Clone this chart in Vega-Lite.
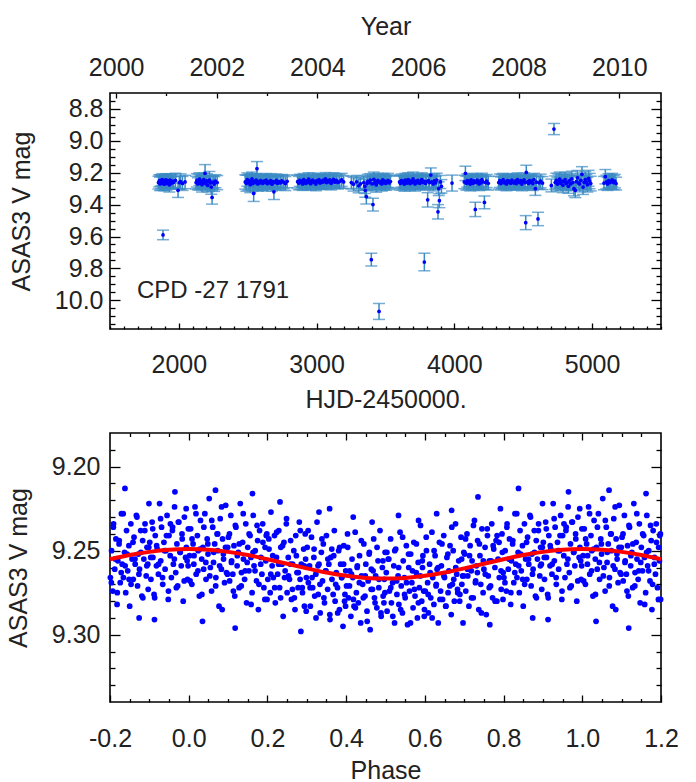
{
"$schema": "https://vega.github.io/schema/vega-lite/v6.json",
"padding": {"left": 5, "top": 13, "right": 10, "bottom": 0},
"spacing": 17,
"config": {
  "locale": {"number": {"decimal": ".", "thousands": ",", "grouping": [3], "currency": ["", ""], "minus": "-"}},
  "view": {"stroke": "#000", "strokeWidth": 1.6},
  "axis": {"grid": false, "domain": false, "tickColor": "#000", "tickWidth": 1.3, "labelFont": "Liberation Sans", "labelFontSize": 25, "labelColor": "#222", "titleFont": "Liberation Sans", "titleFontSize": 25, "titleFontWeight": "normal", "titleColor": "#222", "labelOverlap": false, "labelFlush": false, "labelBound": false}
},
"datasets": {
"ts": [
{"t":1852,"m":9.262,"e":0.040},{"t":1858,"m":9.251,"e":0.038},{"t":1863,"m":9.270,"e":0.042},{"t":1867,"m":9.248,"e":0.036},{"t":1871,"m":9.259,"e":0.040},{"t":1876,"m":9.266,"e":0.044},{"t":1880,"m":9.243,"e":0.037},{"t":1885,"m":9.590,"e":0.030},{"t":1889,"m":9.255,"e":0.039},{"t":1893,"m":9.272,"e":0.041},{"t":1897,"m":9.250,"e":0.036},{"t":1902,"m":9.261,"e":0.040},{"t":1906,"m":9.245,"e":0.038},{"t":1910,"m":9.268,"e":0.043},{"t":1914,"m":9.257,"e":0.037},{"t":1919,"m":9.249,"e":0.040},{"t":1923,"m":9.263,"e":0.036},{"t":1927,"m":9.254,"e":0.041},{"t":1931,"m":9.276,"e":0.045},{"t":1936,"m":9.247,"e":0.038},{"t":1940,"m":9.258,"e":0.040},{"t":1945,"m":9.266,"e":0.037},{"t":1952,"m":9.252,"e":0.042},{"t":1960,"m":9.261,"e":0.039},{"t":1975,"m":9.248,"e":0.045},{"t":1994,"m":9.310,"e":0.045},{"t":2003,"m":9.262,"e":0.040},{"t":2012,"m":9.255,"e":0.048},{"t":2026,"m":9.267,"e":0.044},{"t":2045,"m":9.258,"e":0.042},
{"t":2125,"m":9.262,"e":0.040},{"t":2131,"m":9.248,"e":0.042},{"t":2138,"m":9.270,"e":0.038},{"t":2144,"m":9.255,"e":0.045},{"t":2150,"m":9.240,"e":0.040},{"t":2156,"m":9.266,"e":0.043},{"t":2162,"m":9.252,"e":0.037},{"t":2168,"m":9.275,"e":0.046},{"t":2174,"m":9.258,"e":0.040},{"t":2181,"m":9.244,"e":0.042},{"t":2187,"m":9.263,"e":0.039},{"t":2190,"m":9.204,"e":0.055},{"t":2196,"m":9.269,"e":0.041},{"t":2203,"m":9.251,"e":0.044},{"t":2209,"m":9.280,"e":0.040},{"t":2216,"m":9.256,"e":0.038},{"t":2222,"m":9.247,"e":0.055},{"t":2229,"m":9.264,"e":0.040},{"t":2235,"m":9.290,"e":0.045},{"t":2241,"m":9.355,"e":0.042},{"t":2248,"m":9.259,"e":0.040},{"t":2256,"m":9.271,"e":0.046},{"t":2265,"m":9.253,"e":0.041},{"t":2278,"m":9.262,"e":0.044},
{"t":2482,"m":9.258,"e":0.045},{"t":2490,"m":9.266,"e":0.050},{"t":2497,"m":9.243,"e":0.042},{"t":2505,"m":9.262,"e":0.048},{"t":2512,"m":9.251,"e":0.044},{"t":2518,"m":9.275,"e":0.050},{"t":2525,"m":9.256,"e":0.046},{"t":2531,"m":9.238,"e":0.042},{"t":2537,"m":9.268,"e":0.047},{"t":2543,"m":9.330,"e":0.050},{"t":2549,"m":9.252,"e":0.044},{"t":2556,"m":9.262,"e":0.048},{"t":2562,"m":9.247,"e":0.042},{"t":2567,"m":9.175,"e":0.045},{"t":2573,"m":9.270,"e":0.046},{"t":2580,"m":9.256,"e":0.043},{"t":2587,"m":9.264,"e":0.045},{"t":2594,"m":9.249,"e":0.041},{"t":2601,"m":9.258,"e":0.047},{"t":2609,"m":9.267,"e":0.043},{"t":2617,"m":9.253,"e":0.040},{"t":2625,"m":9.260,"e":0.044},{"t":2633,"m":9.246,"e":0.041},{"t":2641,"m":9.269,"e":0.046},{"t":2650,"m":9.257,"e":0.042},{"t":2658,"m":9.263,"e":0.040},{"t":2667,"m":9.250,"e":0.044},{"t":2676,"m":9.272,"e":0.043},{"t":2684,"m":9.255,"e":0.041},{"t":2690,"m":9.320,"e":0.048},{"t":2698,"m":9.261,"e":0.042},{"t":2707,"m":9.248,"e":0.040},{"t":2716,"m":9.266,"e":0.044},{"t":2726,"m":9.256,"e":0.041},{"t":2737,"m":9.263,"e":0.043},{"t":2748,"m":9.251,"e":0.040},{"t":2760,"m":9.259,"e":0.042},{"t":2773,"m":9.268,"e":0.044},{"t":2786,"m":9.254,"e":0.040},
{"t":2862,"m":9.256,"e":0.040},{"t":2870,"m":9.265,"e":0.042},{"t":2877,"m":9.248,"e":0.038},{"t":2885,"m":9.261,"e":0.044},{"t":2892,"m":9.253,"e":0.040},{"t":2899,"m":9.270,"e":0.041},{"t":2906,"m":9.244,"e":0.039},{"t":2913,"m":9.259,"e":0.043},{"t":2921,"m":9.266,"e":0.040},{"t":2928,"m":9.251,"e":0.038},{"t":2935,"m":9.262,"e":0.042},{"t":2943,"m":9.240,"e":0.040},{"t":2950,"m":9.257,"e":0.044},{"t":2957,"m":9.269,"e":0.041},{"t":2965,"m":9.253,"e":0.039},{"t":2972,"m":9.246,"e":0.043},{"t":2980,"m":9.262,"e":0.040},{"t":2987,"m":9.255,"e":0.038},{"t":2995,"m":9.271,"e":0.042},{"t":3002,"m":9.249,"e":0.040},{"t":3010,"m":9.258,"e":0.044},{"t":3017,"m":9.244,"e":0.039},{"t":3025,"m":9.265,"e":0.041},{"t":3032,"m":9.252,"e":0.040},{"t":3040,"m":9.260,"e":0.043},{"t":3048,"m":9.247,"e":0.038},{"t":3056,"m":9.256,"e":0.042},{"t":3064,"m":9.239,"e":0.040},{"t":3072,"m":9.262,"e":0.041},{"t":3080,"m":9.250,"e":0.039},{"t":3088,"m":9.257,"e":0.043},{"t":3096,"m":9.245,"e":0.040},{"t":3105,"m":9.266,"e":0.042},{"t":3114,"m":9.253,"e":0.039},{"t":3123,"m":9.241,"e":0.041},{"t":3133,"m":9.259,"e":0.040},{"t":3143,"m":9.248,"e":0.042},{"t":3155,"m":9.262,"e":0.040},{"t":3168,"m":9.254,"e":0.043},{"t":3182,"m":9.245,"e":0.041},{"t":3196,"m":9.258,"e":0.040},
{"t":3252,"m":9.262,"e":0.040},{"t":3268,"m":9.272,"e":0.043},{"t":3290,"m":9.258,"e":0.041},{"t":3305,"m":9.282,"e":0.044},{"t":3318,"m":9.270,"e":0.042},
{"t":3342,"m":9.262,"e":0.042},{"t":3350,"m":9.285,"e":0.045},{"t":3353,"m":9.310,"e":0.044},{"t":3361,"m":9.350,"e":0.046},{"t":3366,"m":9.268,"e":0.042},{"t":3372,"m":9.254,"e":0.044},{"t":3384,"m":9.262,"e":0.043},{"t":3390,"m":9.247,"e":0.041},{"t":3397,"m":9.745,"e":0.040},{"t":3403,"m":9.270,"e":0.044},{"t":3409,"m":9.400,"e":0.040},{"t":3415,"m":9.241,"e":0.045},{"t":3421,"m":9.265,"e":0.043},{"t":3427,"m":9.252,"e":0.041},{"t":3433,"m":9.276,"e":0.046},{"t":3440,"m":9.259,"e":0.042},{"t":3446,"m":9.248,"e":0.044},{"t":3453,"m":10.070,"e":0.050},{"t":3459,"m":9.263,"e":0.041},{"t":3466,"m":9.255,"e":0.043},{"t":3473,"m":9.270,"e":0.045},{"t":3480,"m":9.245,"e":0.041},{"t":3487,"m":9.262,"e":0.044},{"t":3494,"m":9.252,"e":0.042},{"t":3502,"m":9.267,"e":0.043},{"t":3510,"m":9.257,"e":0.041},{"t":3518,"m":9.248,"e":0.044},{"t":3527,"m":9.264,"e":0.042},{"t":3536,"m":9.255,"e":0.040},
{"t":3602,"m":9.258,"e":0.042},{"t":3609,"m":9.266,"e":0.044},{"t":3616,"m":9.249,"e":0.041},{"t":3623,"m":9.262,"e":0.043},{"t":3630,"m":9.254,"e":0.040},{"t":3637,"m":9.271,"e":0.045},{"t":3644,"m":9.246,"e":0.042},{"t":3651,"m":9.259,"e":0.044},{"t":3658,"m":9.265,"e":0.041},{"t":3665,"m":9.243,"e":0.043},{"t":3672,"m":9.256,"e":0.040},{"t":3679,"m":9.268,"e":0.044},{"t":3686,"m":9.251,"e":0.042},{"t":3693,"m":9.262,"e":0.041},{"t":3700,"m":9.239,"e":0.043},{"t":3707,"m":9.257,"e":0.040},{"t":3714,"m":9.270,"e":0.045},{"t":3721,"m":9.252,"e":0.042},{"t":3728,"m":9.263,"e":0.044},{"t":3735,"m":9.248,"e":0.041},{"t":3742,"m":9.259,"e":0.043},{"t":3749,"m":9.266,"e":0.040},{"t":3756,"m":9.254,"e":0.042},{"t":3763,"m":9.244,"e":0.044},{"t":3770,"m":9.261,"e":0.041},{"t":3777,"m":9.252,"e":0.043},{"t":3782,"m":9.760,"e":0.055},{"t":3790,"m":9.267,"e":0.042},{"t":3797,"m":9.256,"e":0.044},{"t":3806,"m":9.370,"e":0.045},{"t":3812,"m":9.249,"e":0.041},{"t":3820,"m":9.262,"e":0.043},{"t":3829,"m":9.215,"e":0.045},{"t":3837,"m":9.258,"e":0.040},{"t":3846,"m":9.270,"e":0.044},{"t":3855,"m":9.251,"e":0.042},{"t":3864,"m":9.263,"e":0.041},{"t":3872,"m":9.246,"e":0.043},{"t":3881,"m":9.445,"e":0.045},{"t":3886,"m":9.300,"e":0.043},{"t":3891,"m":9.375,"e":0.044},{"t":3898,"m":9.258,"e":0.041},{"t":3906,"m":9.285,"e":0.042},
{"t":3983,"m":9.265,"e":0.050},
{"t":4072,"m":9.258,"e":0.042},{"t":4080,"m":9.204,"e":0.045},{"t":4087,"m":9.266,"e":0.043},{"t":4094,"m":9.249,"e":0.041},{"t":4101,"m":9.262,"e":0.044},{"t":4108,"m":9.254,"e":0.040},{"t":4115,"m":9.271,"e":0.043},{"t":4122,"m":9.245,"e":0.041},{"t":4129,"m":9.259,"e":0.044},{"t":4136,"m":9.266,"e":0.042},{"t":4143,"m":9.251,"e":0.040},{"t":4152,"m":9.430,"e":0.045},{"t":4158,"m":9.262,"e":0.043},{"t":4165,"m":9.247,"e":0.041},{"t":4172,"m":9.258,"e":0.044},{"t":4179,"m":9.270,"e":0.042},{"t":4186,"m":9.253,"e":0.040},{"t":4193,"m":9.264,"e":0.043},{"t":4200,"m":9.244,"e":0.041},{"t":4207,"m":9.257,"e":0.044},{"t":4218,"m":9.386,"e":0.040},{"t":4226,"m":9.262,"e":0.042},{"t":4235,"m":9.252,"e":0.041},{"t":4246,"m":9.266,"e":0.043},
{"t":4322,"m":9.262,"e":0.040},{"t":4330,"m":9.250,"e":0.042},{"t":4338,"m":9.268,"e":0.041},{"t":4346,"m":9.255,"e":0.043},{"t":4354,"m":9.244,"e":0.040},{"t":4362,"m":9.263,"e":0.042},{"t":4370,"m":9.257,"e":0.041},{"t":4378,"m":9.270,"e":0.043},{"t":4386,"m":9.249,"e":0.040},{"t":4394,"m":9.261,"e":0.042},{"t":4402,"m":9.254,"e":0.041},{"t":4410,"m":9.266,"e":0.043},{"t":4418,"m":9.246,"e":0.040},{"t":4426,"m":9.259,"e":0.042},{"t":4434,"m":9.265,"e":0.041},{"t":4442,"m":9.252,"e":0.043},{"t":4450,"m":9.268,"e":0.040},{"t":4458,"m":9.243,"e":0.042},{"t":4466,"m":9.258,"e":0.041},{"t":4474,"m":9.262,"e":0.043},{"t":4482,"m":9.250,"e":0.040},{"t":4490,"m":9.271,"e":0.042},{"t":4498,"m":9.256,"e":0.041},{"t":4506,"m":9.245,"e":0.043},{"t":4513,"m":9.262,"e":0.040},{"t":4518,"m":9.513,"e":0.044},{"t":4522,"m":9.198,"e":0.045},{"t":4530,"m":9.257,"e":0.041},{"t":4538,"m":9.266,"e":0.043},{"t":4546,"m":9.249,"e":0.040},{"t":4554,"m":9.261,"e":0.042},{"t":4562,"m":9.253,"e":0.041},{"t":4570,"m":9.268,"e":0.043},{"t":4578,"m":9.244,"e":0.040},{"t":4588,"m":9.300,"e":0.042},{"t":4596,"m":9.259,"e":0.041},{"t":4607,"m":9.490,"e":0.042},{"t":4615,"m":9.263,"e":0.040},{"t":4626,"m":9.252,"e":0.043},{"t":4640,"m":9.265,"e":0.041},
{"t":4704,"m":9.280,"e":0.040},{"t":4723,"m":8.926,"e":0.035},
{"t":4732,"m":9.262,"e":0.042},{"t":4740,"m":9.248,"e":0.045},{"t":4748,"m":9.271,"e":0.043},{"t":4756,"m":9.255,"e":0.046},{"t":4764,"m":9.240,"e":0.044},{"t":4772,"m":9.266,"e":0.045},{"t":4780,"m":9.252,"e":0.043},{"t":4788,"m":9.279,"e":0.046},{"t":4796,"m":9.257,"e":0.044},{"t":4804,"m":9.243,"e":0.045},{"t":4812,"m":9.268,"e":0.043},{"t":4820,"m":9.260,"e":0.046},{"t":4828,"m":9.285,"e":0.044},{"t":4836,"m":9.250,"e":0.045},{"t":4844,"m":9.270,"e":0.043},{"t":4852,"m":9.238,"e":0.047},{"t":4860,"m":9.262,"e":0.044},{"t":4868,"m":9.300,"e":0.045},{"t":4878,"m":9.310,"e":0.046},{"t":4886,"m":9.256,"e":0.043},{"t":4894,"m":9.232,"e":0.046},{"t":4902,"m":9.265,"e":0.044},{"t":4910,"m":9.270,"e":0.050},{"t":4918,"m":9.248,"e":0.045},{"t":4926,"m":9.210,"e":0.048},{"t":4934,"m":9.290,"e":0.046},{"t":4942,"m":9.262,"e":0.045},{"t":4950,"m":9.243,"e":0.050},{"t":4958,"m":9.258,"e":0.047},{"t":4966,"m":9.275,"e":0.046},{"t":4974,"m":9.235,"e":0.050},{"t":4982,"m":9.252,"e":0.048},{"t":4990,"m":9.268,"e":0.046},
{"t":5086,"m":9.265,"e":0.042},{"t":5096,"m":9.225,"e":0.045},{"t":5104,"m":9.258,"e":0.043},{"t":5112,"m":9.270,"e":0.041},{"t":5120,"m":9.250,"e":0.044},{"t":5128,"m":9.262,"e":0.042},{"t":5136,"m":9.256,"e":0.043},{"t":5145,"m":9.245,"e":0.041},{"t":5155,"m":9.262,"e":0.044},{"t":5165,"m":9.253,"e":0.042},{"t":5174,"m":9.268,"e":0.040}
],
"ph": [
{"p":0.002,"m":9.253},{"p":0.005,"m":9.237},{"p":0.008,"m":9.270},{"p":0.011,"m":9.246},{"p":0.013,"m":9.258},{"p":0.016,"m":9.224},{"p":0.019,"m":9.264},{"p":0.022,"m":9.241},{"p":0.024,"m":9.250},{"p":0.027,"m":9.277},{"p":0.030,"m":9.232},{"p":0.033,"m":9.255},{"p":0.036,"m":9.248},{"p":0.038,"m":9.261},{"p":0.041,"m":9.228},{"p":0.044,"m":9.267},{"p":0.047,"m":9.243},{"p":0.049,"m":9.252},{"p":0.052,"m":9.219},{"p":0.055,"m":9.260},{"p":0.058,"m":9.274},{"p":0.061,"m":9.236},{"p":0.063,"m":9.257},{"p":0.066,"m":9.246},{"p":0.069,"m":9.266},{"p":0.072,"m":9.240},{"p":0.074,"m":9.250},{"p":0.077,"m":9.283},{"p":0.080,"m":9.231},{"p":0.083,"m":9.261},{"p":0.086,"m":9.243},{"p":0.088,"m":9.252},{"p":0.091,"m":9.269},{"p":0.094,"m":9.223},{"p":0.096,"m":9.263},{"p":0.099,"m":9.248},{"p":0.035,"m":9.292},{"p":0.068,"m":9.214},{"p":0.085,"m":9.285},
{"p":0.101,"m":9.242},{"p":0.104,"m":9.268},{"p":0.107,"m":9.229},{"p":0.109,"m":9.256},{"p":0.112,"m":9.264},{"p":0.115,"m":9.247},{"p":0.117,"m":9.277},{"p":0.120,"m":9.236},{"p":0.123,"m":9.259},{"p":0.126,"m":9.251},{"p":0.128,"m":9.272},{"p":0.131,"m":9.222},{"p":0.134,"m":9.263},{"p":0.137,"m":9.245},{"p":0.139,"m":9.255},{"p":0.142,"m":9.267},{"p":0.145,"m":9.234},{"p":0.147,"m":9.281},{"p":0.150,"m":9.248},{"p":0.153,"m":9.262},{"p":0.156,"m":9.241},{"p":0.158,"m":9.254},{"p":0.161,"m":9.275},{"p":0.164,"m":9.229},{"p":0.166,"m":9.259},{"p":0.169,"m":9.250},{"p":0.172,"m":9.268},{"p":0.175,"m":9.244},{"p":0.177,"m":9.285},{"p":0.180,"m":9.238},{"p":0.183,"m":9.258},{"p":0.186,"m":9.264},{"p":0.188,"m":9.234},{"p":0.191,"m":9.272},{"p":0.194,"m":9.248},{"p":0.196,"m":9.256},{"p":0.199,"m":9.279},{"p":0.197,"m":9.241},{"p":0.118,"m":9.296},{"p":0.162,"m":9.216},
{"p":0.201,"m":9.267},{"p":0.204,"m":9.249},{"p":0.207,"m":9.275},{"p":0.209,"m":9.227},{"p":0.212,"m":9.259},{"p":0.215,"m":9.266},{"p":0.218,"m":9.241},{"p":0.220,"m":9.281},{"p":0.223,"m":9.254},{"p":0.226,"m":9.264},{"p":0.229,"m":9.238},{"p":0.231,"m":9.272},{"p":0.234,"m":9.248},{"p":0.237,"m":9.258},{"p":0.240,"m":9.289},{"p":0.242,"m":9.245},{"p":0.245,"m":9.262},{"p":0.248,"m":9.234},{"p":0.250,"m":9.275},{"p":0.253,"m":9.254},{"p":0.256,"m":9.267},{"p":0.259,"m":9.244},{"p":0.261,"m":9.279},{"p":0.264,"m":9.258},{"p":0.267,"m":9.250},{"p":0.270,"m":9.285},{"p":0.272,"m":9.241},{"p":0.275,"m":9.263},{"p":0.278,"m":9.272},{"p":0.281,"m":9.233},{"p":0.283,"m":9.267},{"p":0.286,"m":9.258},{"p":0.289,"m":9.275},{"p":0.292,"m":9.249},{"p":0.294,"m":9.283},{"p":0.297,"m":9.255},{"p":0.299,"m":9.266},{"p":0.296,"m":9.240},{"p":0.232,"m":9.221},{"p":0.285,"m":9.298},
{"p":0.301,"m":9.248},{"p":0.304,"m":9.269},{"p":0.307,"m":9.259},{"p":0.309,"m":9.283},{"p":0.312,"m":9.242},{"p":0.315,"m":9.272},{"p":0.318,"m":9.254},{"p":0.320,"m":9.277},{"p":0.323,"m":9.264},{"p":0.326,"m":9.233},{"p":0.329,"m":9.276},{"p":0.331,"m":9.258},{"p":0.334,"m":9.287},{"p":0.337,"m":9.251},{"p":0.340,"m":9.268},{"p":0.342,"m":9.246},{"p":0.345,"m":9.281},{"p":0.348,"m":9.262},{"p":0.350,"m":9.241},{"p":0.353,"m":9.273},{"p":0.356,"m":9.258},{"p":0.359,"m":9.291},{"p":0.361,"m":9.254},{"p":0.364,"m":9.267},{"p":0.367,"m":9.276},{"p":0.370,"m":9.238},{"p":0.372,"m":9.280},{"p":0.375,"m":9.263},{"p":0.378,"m":9.272},{"p":0.381,"m":9.250},{"p":0.383,"m":9.285},{"p":0.386,"m":9.258},{"p":0.389,"m":9.266},{"p":0.392,"m":9.295},{"p":0.394,"m":9.247},{"p":0.397,"m":9.276},{"p":0.399,"m":9.262},{"p":0.396,"m":9.280},{"p":0.358,"m":9.225},{"p":0.331,"m":9.227},
{"p":0.401,"m":9.271},{"p":0.404,"m":9.248},{"p":0.406,"m":9.278},{"p":0.409,"m":9.262},{"p":0.412,"m":9.289},{"p":0.415,"m":9.255},{"p":0.417,"m":9.266},{"p":0.420,"m":9.283},{"p":0.423,"m":9.239},{"p":0.426,"m":9.275},{"p":0.428,"m":9.260},{"p":0.431,"m":9.281},{"p":0.434,"m":9.253},{"p":0.437,"m":9.293},{"p":0.439,"m":9.265},{"p":0.442,"m":9.270},{"p":0.445,"m":9.246},{"p":0.448,"m":9.277},{"p":0.450,"m":9.258},{"p":0.453,"m":9.286},{"p":0.456,"m":9.268},{"p":0.459,"m":9.251},{"p":0.461,"m":9.297},{"p":0.464,"m":9.261},{"p":0.467,"m":9.273},{"p":0.470,"m":9.243},{"p":0.472,"m":9.278},{"p":0.475,"m":9.265},{"p":0.478,"m":9.284},{"p":0.481,"m":9.256},{"p":0.483,"m":9.272},{"p":0.486,"m":9.238},{"p":0.489,"m":9.289},{"p":0.492,"m":9.260},{"p":0.494,"m":9.277},{"p":0.497,"m":9.267},{"p":0.499,"m":9.251},{"p":0.496,"m":9.281},{"p":0.418,"m":9.230},{"p":0.466,"m":9.233},
{"p":0.502,"m":9.263},{"p":0.504,"m":9.286},{"p":0.507,"m":9.255},{"p":0.510,"m":9.274},{"p":0.513,"m":9.243},{"p":0.515,"m":9.281},{"p":0.518,"m":9.269},{"p":0.521,"m":9.259},{"p":0.523,"m":9.293},{"p":0.526,"m":9.249},{"p":0.529,"m":9.276},{"p":0.532,"m":9.265},{"p":0.534,"m":9.282},{"p":0.537,"m":9.239},{"p":0.540,"m":9.271},{"p":0.543,"m":9.287},{"p":0.545,"m":9.256},{"p":0.548,"m":9.266},{"p":0.550,"m":9.278},{"p":0.553,"m":9.247},{"p":0.556,"m":9.294},{"p":0.559,"m":9.260},{"p":0.561,"m":9.274},{"p":0.564,"m":9.252},{"p":0.567,"m":9.269},{"p":0.570,"m":9.284},{"p":0.572,"m":9.245},{"p":0.575,"m":9.277},{"p":0.578,"m":9.263},{"p":0.581,"m":9.290},{"p":0.583,"m":9.257},{"p":0.586,"m":9.272},{"p":0.589,"m":9.235},{"p":0.592,"m":9.280},{"p":0.594,"m":9.260},{"p":0.597,"m":9.274},{"p":0.599,"m":9.285},{"p":0.595,"m":9.253},{"p":0.533,"m":9.229},{"p":0.584,"m":9.232},
{"p":0.601,"m":9.274},{"p":0.604,"m":9.250},{"p":0.607,"m":9.269},{"p":0.609,"m":9.287},{"p":0.612,"m":9.258},{"p":0.615,"m":9.278},{"p":0.618,"m":9.239},{"p":0.620,"m":9.266},{"p":0.623,"m":9.282},{"p":0.626,"m":9.253},{"p":0.629,"m":9.270},{"p":0.631,"m":9.261},{"p":0.634,"m":9.293},{"p":0.637,"m":9.245},{"p":0.640,"m":9.274},{"p":0.642,"m":9.259},{"p":0.645,"m":9.279},{"p":0.648,"m":9.241},{"p":0.650,"m":9.266},{"p":0.653,"m":9.283},{"p":0.656,"m":9.254},{"p":0.659,"m":9.275},{"p":0.661,"m":9.262},{"p":0.664,"m":9.247},{"p":0.667,"m":9.288},{"p":0.670,"m":9.270},{"p":0.672,"m":9.250},{"p":0.675,"m":9.280},{"p":0.678,"m":9.234},{"p":0.681,"m":9.264},{"p":0.683,"m":9.273},{"p":0.686,"m":9.256},{"p":0.689,"m":9.276},{"p":0.692,"m":9.242},{"p":0.694,"m":9.270},{"p":0.697,"m":9.293},{"p":0.699,"m":9.251},{"p":0.696,"m":9.265},{"p":0.630,"m":9.228},{"p":0.668,"m":9.226},
{"p":0.701,"m":9.252},{"p":0.704,"m":9.274},{"p":0.707,"m":9.240},{"p":0.709,"m":9.265},{"p":0.712,"m":9.283},{"p":0.715,"m":9.247},{"p":0.718,"m":9.262},{"p":0.720,"m":9.256},{"p":0.723,"m":9.278},{"p":0.726,"m":9.232},{"p":0.729,"m":9.268},{"p":0.731,"m":9.259},{"p":0.734,"m":9.244},{"p":0.737,"m":9.285},{"p":0.740,"m":9.253},{"p":0.742,"m":9.270},{"p":0.745,"m":9.237},{"p":0.748,"m":9.275},{"p":0.750,"m":9.261},{"p":0.753,"m":9.248},{"p":0.756,"m":9.288},{"p":0.759,"m":9.241},{"p":0.761,"m":9.265},{"p":0.764,"m":9.256},{"p":0.767,"m":9.271},{"p":0.770,"m":9.234},{"p":0.772,"m":9.278},{"p":0.775,"m":9.249},{"p":0.778,"m":9.260},{"p":0.781,"m":9.244},{"p":0.783,"m":9.280},{"p":0.786,"m":9.255},{"p":0.789,"m":9.266},{"p":0.792,"m":9.225},{"p":0.794,"m":9.273},{"p":0.797,"m":9.251},{"p":0.799,"m":9.263},{"p":0.796,"m":9.240},{"p":0.735,"m":9.218},{"p":0.765,"m":9.294},
{"p":0.801,"m":9.266},{"p":0.804,"m":9.250},{"p":0.807,"m":9.274},{"p":0.809,"m":9.234},{"p":0.812,"m":9.261},{"p":0.815,"m":9.243},{"p":0.818,"m":9.282},{"p":0.820,"m":9.256},{"p":0.823,"m":9.246},{"p":0.826,"m":9.269},{"p":0.829,"m":9.228},{"p":0.831,"m":9.258},{"p":0.834,"m":9.266},{"p":0.837,"m":9.251},{"p":0.840,"m":9.275},{"p":0.842,"m":9.238},{"p":0.845,"m":9.262},{"p":0.848,"m":9.247},{"p":0.850,"m":9.283},{"p":0.853,"m":9.234},{"p":0.856,"m":9.255},{"p":0.859,"m":9.267},{"p":0.861,"m":9.242},{"p":0.864,"m":9.258},{"p":0.867,"m":9.229},{"p":0.870,"m":9.271},{"p":0.872,"m":9.252},{"p":0.875,"m":9.261},{"p":0.878,"m":9.238},{"p":0.881,"m":9.277},{"p":0.883,"m":9.244},{"p":0.886,"m":9.255},{"p":0.889,"m":9.234},{"p":0.892,"m":9.265},{"p":0.894,"m":9.248},{"p":0.897,"m":9.273},{"p":0.899,"m":9.222},{"p":0.896,"m":9.258},{"p":0.838,"m":9.213},{"p":0.874,"m":9.290},
{"p":0.901,"m":9.245},{"p":0.904,"m":9.267},{"p":0.907,"m":9.233},{"p":0.909,"m":9.254},{"p":0.912,"m":9.276},{"p":0.915,"m":9.241},{"p":0.918,"m":9.259},{"p":0.920,"m":9.249},{"p":0.923,"m":9.264},{"p":0.926,"m":9.222},{"p":0.929,"m":9.256},{"p":0.931,"m":9.236},{"p":0.934,"m":9.270},{"p":0.937,"m":9.245},{"p":0.940,"m":9.261},{"p":0.942,"m":9.250},{"p":0.945,"m":9.229},{"p":0.948,"m":9.279},{"p":0.950,"m":9.241},{"p":0.953,"m":9.253},{"p":0.956,"m":9.266},{"p":0.959,"m":9.236},{"p":0.961,"m":9.258},{"p":0.964,"m":9.224},{"p":0.967,"m":9.263},{"p":0.970,"m":9.246},{"p":0.972,"m":9.271},{"p":0.975,"m":9.233},{"p":0.978,"m":9.251},{"p":0.981,"m":9.259},{"p":0.983,"m":9.240},{"p":0.986,"m":9.280},{"p":0.989,"m":9.230},{"p":0.992,"m":9.254},{"p":0.994,"m":9.248},{"p":0.997,"m":9.267},{"p":0.999,"m":9.237},{"p":0.996,"m":9.256},{"p":0.913,"m":9.291},{"p":0.965,"m":9.215},
{"p":-0.199,"m":9.266},{"p":-0.196,"m":9.250},{"p":-0.193,"m":9.274},{"p":-0.191,"m":9.234},{"p":-0.188,"m":9.261},{"p":-0.185,"m":9.243},{"p":-0.182,"m":9.282},{"p":-0.180,"m":9.256},{"p":-0.177,"m":9.246},{"p":-0.174,"m":9.269},{"p":-0.171,"m":9.228},{"p":-0.169,"m":9.258},{"p":-0.166,"m":9.266},{"p":-0.163,"m":9.251},{"p":-0.160,"m":9.275},{"p":-0.158,"m":9.238},{"p":-0.155,"m":9.262},{"p":-0.152,"m":9.247},{"p":-0.150,"m":9.283},{"p":-0.147,"m":9.234},{"p":-0.144,"m":9.255},{"p":-0.141,"m":9.267},{"p":-0.139,"m":9.242},{"p":-0.136,"m":9.258},{"p":-0.133,"m":9.229},{"p":-0.130,"m":9.271},{"p":-0.128,"m":9.252},{"p":-0.125,"m":9.261},{"p":-0.122,"m":9.238},{"p":-0.119,"m":9.277},{"p":-0.117,"m":9.244},{"p":-0.114,"m":9.255},{"p":-0.111,"m":9.234},{"p":-0.108,"m":9.265},{"p":-0.106,"m":9.248},{"p":-0.103,"m":9.273},{"p":-0.101,"m":9.222},{"p":-0.104,"m":9.258},{"p":-0.162,"m":9.213},{"p":-0.126,"m":9.290},
{"p":-0.099,"m":9.245},{"p":-0.096,"m":9.267},{"p":-0.093,"m":9.233},{"p":-0.091,"m":9.254},{"p":-0.088,"m":9.276},{"p":-0.085,"m":9.241},{"p":-0.082,"m":9.259},{"p":-0.080,"m":9.249},{"p":-0.077,"m":9.264},{"p":-0.074,"m":9.222},{"p":-0.071,"m":9.256},{"p":-0.069,"m":9.236},{"p":-0.066,"m":9.270},{"p":-0.063,"m":9.245},{"p":-0.060,"m":9.261},{"p":-0.058,"m":9.250},{"p":-0.055,"m":9.229},{"p":-0.052,"m":9.279},{"p":-0.050,"m":9.241},{"p":-0.047,"m":9.253},{"p":-0.044,"m":9.266},{"p":-0.041,"m":9.236},{"p":-0.039,"m":9.258},{"p":-0.036,"m":9.224},{"p":-0.033,"m":9.263},{"p":-0.030,"m":9.246},{"p":-0.028,"m":9.271},{"p":-0.025,"m":9.233},{"p":-0.022,"m":9.251},{"p":-0.019,"m":9.259},{"p":-0.017,"m":9.240},{"p":-0.014,"m":9.280},{"p":-0.011,"m":9.230},{"p":-0.008,"m":9.254},{"p":-0.006,"m":9.248},{"p":-0.003,"m":9.267},{"p":-0.001,"m":9.237},{"p":-0.004,"m":9.256},{"p":-0.087,"m":9.291},{"p":-0.035,"m":9.215},
{"p":1.002,"m":9.253},{"p":1.005,"m":9.237},{"p":1.008,"m":9.270},{"p":1.011,"m":9.246},{"p":1.013,"m":9.258},{"p":1.016,"m":9.224},{"p":1.019,"m":9.264},{"p":1.022,"m":9.241},{"p":1.024,"m":9.250},{"p":1.027,"m":9.277},{"p":1.030,"m":9.232},{"p":1.033,"m":9.255},{"p":1.036,"m":9.248},{"p":1.038,"m":9.261},{"p":1.041,"m":9.228},{"p":1.044,"m":9.267},{"p":1.047,"m":9.243},{"p":1.049,"m":9.252},{"p":1.052,"m":9.219},{"p":1.055,"m":9.260},{"p":1.058,"m":9.274},{"p":1.061,"m":9.236},{"p":1.063,"m":9.257},{"p":1.066,"m":9.246},{"p":1.069,"m":9.266},{"p":1.072,"m":9.240},{"p":1.074,"m":9.250},{"p":1.077,"m":9.283},{"p":1.080,"m":9.231},{"p":1.083,"m":9.261},{"p":1.086,"m":9.243},{"p":1.088,"m":9.252},{"p":1.091,"m":9.269},{"p":1.094,"m":9.223},{"p":1.096,"m":9.263},{"p":1.099,"m":9.248},{"p":1.035,"m":9.292},{"p":1.068,"m":9.214},{"p":1.085,"m":9.285},
{"p":1.101,"m":9.242},{"p":1.104,"m":9.268},{"p":1.107,"m":9.229},{"p":1.109,"m":9.256},{"p":1.112,"m":9.264},{"p":1.115,"m":9.247},{"p":1.117,"m":9.277},{"p":1.120,"m":9.236},{"p":1.123,"m":9.259},{"p":1.126,"m":9.251},{"p":1.128,"m":9.272},{"p":1.131,"m":9.222},{"p":1.134,"m":9.263},{"p":1.137,"m":9.245},{"p":1.139,"m":9.255},{"p":1.142,"m":9.267},{"p":1.145,"m":9.234},{"p":1.147,"m":9.281},{"p":1.150,"m":9.248},{"p":1.153,"m":9.262},{"p":1.156,"m":9.241},{"p":1.158,"m":9.254},{"p":1.161,"m":9.275},{"p":1.164,"m":9.229},{"p":1.166,"m":9.259},{"p":1.169,"m":9.250},{"p":1.172,"m":9.268},{"p":1.175,"m":9.244},{"p":1.177,"m":9.285},{"p":1.180,"m":9.238},{"p":1.183,"m":9.258},{"p":1.186,"m":9.264},{"p":1.188,"m":9.234},{"p":1.191,"m":9.272},{"p":1.194,"m":9.248},{"p":1.196,"m":9.256},{"p":1.199,"m":9.279},{"p":1.197,"m":9.241},{"p":1.118,"m":9.296},{"p":1.162,"m":9.216},
{"p":0.0035,"m":9.268},{"p":0.0085,"m":9.243},{"p":0.0135,"m":9.253},{"p":0.0185,"m":9.228},{"p":0.0235,"m":9.262},{"p":0.0285,"m":9.249},{"p":0.0335,"m":9.276},{"p":0.0385,"m":9.236},{"p":0.0435,"m":9.257},{"p":0.0485,"m":9.246},{"p":0.0535,"m":9.265},{"p":0.0585,"m":9.232},{"p":0.0635,"m":9.251},{"p":0.0685,"m":9.271},{"p":0.0735,"m":9.240},{"p":0.0785,"m":9.259},{"p":0.0835,"m":9.224},{"p":0.0885,"m":9.255},{"p":0.0935,"m":9.248},{"p":0.0985,"m":9.264},
{"p":0.1035,"m":9.240},{"p":0.1085,"m":9.257},{"p":0.1135,"m":9.274},{"p":0.1185,"m":9.235},{"p":0.1235,"m":9.253},{"p":0.1285,"m":9.246},{"p":0.1335,"m":9.271},{"p":0.1385,"m":9.228},{"p":0.1435,"m":9.262},{"p":0.1485,"m":9.257},{"p":0.1535,"m":9.240},{"p":0.1585,"m":9.282},{"p":0.1635,"m":9.251},{"p":0.1685,"m":9.262},{"p":0.1735,"m":9.235},{"p":0.1785,"m":9.270},{"p":0.1835,"m":9.254},{"p":0.1885,"m":9.245},{"p":0.1935,"m":9.279},{"p":0.1985,"m":9.240},
{"p":0.2035,"m":9.243},{"p":0.2085,"m":9.264},{"p":0.2135,"m":9.253},{"p":0.2185,"m":9.272},{"p":0.2235,"m":9.239},{"p":0.2285,"m":9.258},{"p":0.2335,"m":9.278},{"p":0.2385,"m":9.247},{"p":0.2435,"m":9.266},{"p":0.2485,"m":9.231},{"p":0.2535,"m":9.265},{"p":0.2585,"m":9.258},{"p":0.2635,"m":9.273},{"p":0.2685,"m":9.278},{"p":0.2735,"m":9.253},{"p":0.2785,"m":9.263},{"p":0.2835,"m":9.238},{"p":0.2885,"m":9.272},{"p":0.2935,"m":9.259},{"p":0.2985,"m":9.286},
{"p":0.3035,"m":9.238},{"p":0.3085,"m":9.272},{"p":0.3135,"m":9.266},{"p":0.3185,"m":9.249},{"p":0.3235,"m":9.290},{"p":0.3285,"m":9.259},{"p":0.3335,"m":9.270},{"p":0.3385,"m":9.243},{"p":0.3435,"m":9.278},{"p":0.3485,"m":9.262},{"p":0.3535,"m":9.255},{"p":0.3585,"m":9.288},{"p":0.3635,"m":9.249},{"p":0.3685,"m":9.253},{"p":0.3735,"m":9.270},{"p":0.3785,"m":9.287},{"p":0.3835,"m":9.248},{"p":0.3885,"m":9.266},{"p":0.3935,"m":9.258},{"p":0.3985,"m":9.283},
{"p":0.4035,"m":9.240},{"p":0.4085,"m":9.271},{"p":0.4135,"m":9.264},{"p":0.4185,"m":9.279},{"p":0.4235,"m":9.284},{"p":0.4285,"m":9.259},{"p":0.4335,"m":9.269},{"p":0.4385,"m":9.244},{"p":0.4435,"m":9.278},{"p":0.4485,"m":9.265},{"p":0.4535,"m":9.292},{"p":0.4585,"m":9.252},{"p":0.4635,"m":9.273},{"p":0.4685,"m":9.262},{"p":0.4735,"m":9.281},{"p":0.4785,"m":9.248},{"p":0.4835,"m":9.267},{"p":0.4885,"m":9.287},{"p":0.4935,"m":9.256},{"p":0.4985,"m":9.275},
{"p":0.5035,"m":9.251},{"p":0.5085,"m":9.255},{"p":0.5135,"m":9.272},{"p":0.5185,"m":9.289},{"p":0.5235,"m":9.250},{"p":0.5285,"m":9.268},{"p":0.5335,"m":9.260},{"p":0.5385,"m":9.285},{"p":0.5435,"m":9.242},{"p":0.5485,"m":9.276},{"p":0.5535,"m":9.269},{"p":0.5585,"m":9.252},{"p":0.5635,"m":9.293},{"p":0.5685,"m":9.262},{"p":0.5735,"m":9.273},{"p":0.5785,"m":9.246},{"p":0.5835,"m":9.281},{"p":0.5885,"m":9.265},{"p":0.5935,"m":9.256},{"p":0.5985,"m":9.289},
{"p":0.6035,"m":9.242},{"p":0.6085,"m":9.276},{"p":0.6135,"m":9.263},{"p":0.6185,"m":9.290},{"p":0.6235,"m":9.250},{"p":0.6285,"m":9.271},{"p":0.6335,"m":9.260},{"p":0.6385,"m":9.279},{"p":0.6435,"m":9.246},{"p":0.6485,"m":9.265},{"p":0.6535,"m":9.283},{"p":0.6585,"m":9.252},{"p":0.6635,"m":9.271},{"p":0.6685,"m":9.236},{"p":0.6735,"m":9.267},{"p":0.6785,"m":9.260},{"p":0.6835,"m":9.275},{"p":0.6885,"m":9.280},{"p":0.6935,"m":9.255},{"p":0.6985,"m":9.265},
{"p":0.7035,"m":9.243},{"p":0.7085,"m":9.261},{"p":0.7135,"m":9.253},{"p":0.7185,"m":9.278},{"p":0.7235,"m":9.235},{"p":0.7285,"m":9.269},{"p":0.7335,"m":9.263},{"p":0.7385,"m":9.246},{"p":0.7435,"m":9.287},{"p":0.7485,"m":9.256},{"p":0.7535,"m":9.264},{"p":0.7585,"m":9.237},{"p":0.7635,"m":9.272},{"p":0.7685,"m":9.256},{"p":0.7735,"m":9.247},{"p":0.7785,"m":9.280},{"p":0.7835,"m":9.241},{"p":0.7885,"m":9.245},{"p":0.7935,"m":9.262},{"p":0.7985,"m":9.279},
{"p":0.8035,"m":9.269},{"p":0.8085,"m":9.236},{"p":0.8135,"m":9.255},{"p":0.8185,"m":9.275},{"p":0.8235,"m":9.244},{"p":0.8285,"m":9.263},{"p":0.8335,"m":9.228},{"p":0.8385,"m":9.259},{"p":0.8435,"m":9.252},{"p":0.8485,"m":9.267},{"p":0.8535,"m":9.270},{"p":0.8585,"m":9.245},{"p":0.8635,"m":9.255},{"p":0.8685,"m":9.230},{"p":0.8735,"m":9.264},{"p":0.8785,"m":9.251},{"p":0.8835,"m":9.278},{"p":0.8885,"m":9.238},{"p":0.8935,"m":9.259},{"p":0.8985,"m":9.248},
{"p":0.9035,"m":9.254},{"p":0.9085,"m":9.237},{"p":0.9135,"m":9.278},{"p":0.9185,"m":9.247},{"p":0.9235,"m":9.258},{"p":0.9285,"m":9.231},{"p":0.9335,"m":9.266},{"p":0.9385,"m":9.250},{"p":0.9435,"m":9.241},{"p":0.9485,"m":9.274},{"p":0.9535,"m":9.234},{"p":0.9585,"m":9.238},{"p":0.9635,"m":9.255},{"p":0.9685,"m":9.272},{"p":0.9735,"m":9.233},{"p":0.9785,"m":9.251},{"p":0.9835,"m":9.243},{"p":0.9885,"m":9.268},{"p":0.9935,"m":9.225},{"p":0.9985,"m":9.259},
{"p":-0.1965,"m":9.269},{"p":-0.1915,"m":9.236},{"p":-0.1865,"m":9.255},{"p":-0.1815,"m":9.275},{"p":-0.1765,"m":9.244},{"p":-0.1715,"m":9.263},{"p":-0.1665,"m":9.228},{"p":-0.1615,"m":9.259},{"p":-0.1565,"m":9.252},{"p":-0.1515,"m":9.267},{"p":-0.1465,"m":9.270},{"p":-0.1415,"m":9.245},{"p":-0.1365,"m":9.255},{"p":-0.1315,"m":9.230},{"p":-0.1265,"m":9.264},{"p":-0.1215,"m":9.251},{"p":-0.1165,"m":9.278},{"p":-0.1115,"m":9.238},{"p":-0.1065,"m":9.259},{"p":-0.1015,"m":9.248},
{"p":-0.0965,"m":9.254},{"p":-0.0915,"m":9.237},{"p":-0.0865,"m":9.278},{"p":-0.0815,"m":9.247},{"p":-0.0765,"m":9.258},{"p":-0.0715,"m":9.231},{"p":-0.0665,"m":9.266},{"p":-0.0615,"m":9.250},{"p":-0.0565,"m":9.241},{"p":-0.0515,"m":9.274},{"p":-0.0465,"m":9.234},{"p":-0.0415,"m":9.238},{"p":-0.0365,"m":9.255},{"p":-0.0315,"m":9.272},{"p":-0.0265,"m":9.233},{"p":-0.0215,"m":9.251},{"p":-0.0165,"m":9.243},{"p":-0.0115,"m":9.268},{"p":-0.0065,"m":9.225},{"p":-0.0015,"m":9.259},
{"p":1.0035,"m":9.268},{"p":1.0085,"m":9.243},{"p":1.0135,"m":9.253},{"p":1.0185,"m":9.228},{"p":1.0235,"m":9.262},{"p":1.0285,"m":9.249},{"p":1.0335,"m":9.276},{"p":1.0385,"m":9.236},{"p":1.0435,"m":9.257},{"p":1.0485,"m":9.246},{"p":1.0535,"m":9.265},{"p":1.0585,"m":9.232},{"p":1.0635,"m":9.251},{"p":1.0685,"m":9.271},{"p":1.0735,"m":9.240},{"p":1.0785,"m":9.259},{"p":1.0835,"m":9.224},{"p":1.0885,"m":9.255},{"p":1.0935,"m":9.248},{"p":1.0985,"m":9.264},
{"p":1.1035,"m":9.240},{"p":1.1085,"m":9.257},{"p":1.1135,"m":9.274},{"p":1.1185,"m":9.235},{"p":1.1235,"m":9.253},{"p":1.1285,"m":9.246},{"p":1.1335,"m":9.271},{"p":1.1385,"m":9.228},{"p":1.1435,"m":9.262},{"p":1.1485,"m":9.257},{"p":1.1535,"m":9.240},{"p":1.1585,"m":9.282},{"p":1.1635,"m":9.251},{"p":1.1685,"m":9.262},{"p":1.1735,"m":9.235},{"p":1.1785,"m":9.270},{"p":1.1835,"m":9.254},{"p":1.1885,"m":9.245},{"p":1.1935,"m":9.279},{"p":1.1985,"m":9.240}
],
"fit": [
{"p":-0.2,"m":9.2551},{"p":-0.15,"m":9.2526},{"p":-0.1,"m":9.2507},{"p":-0.05,"m":9.2494},{"p":0.0,"m":9.2490},{"p":0.05,"m":9.2494},{"p":0.1,"m":9.2507},{"p":0.15,"m":9.2526},{"p":0.2,"m":9.2551},{"p":0.25,"m":9.2578},{"p":0.3,"m":9.2605},{"p":0.35,"m":9.2630},{"p":0.4,"m":9.2649},{"p":0.45,"m":9.2662},{"p":0.5,"m":9.2666},{"p":0.55,"m":9.2662},{"p":0.6,"m":9.2649},{"p":0.65,"m":9.2630},{"p":0.7,"m":9.2605},{"p":0.75,"m":9.2578},{"p":0.8,"m":9.2551},{"p":0.85,"m":9.2526},{"p":0.9,"m":9.2507},{"p":0.95,"m":9.2494},{"p":1.0,"m":9.2490},{"p":1.05,"m":9.2494},{"p":1.1,"m":9.2507},{"p":1.15,"m":9.2526},{"p":1.2,"m":9.2551}
]
},
"vconcat": [
{
 "width": 551, "height": 236,
 "resolve": {"scale": {"x": "independent"}, "axis": {"x": "independent", "y": "independent"}},
 "layer": [
  {
   "data": {"name": "ts"},
   "mark": {"type": "errorbar", "ticks": true, "size": 12, "thickness": 1.5, "color": "#3a8ac3"},
   "encoding": {
    "x": {"field": "t", "type": "quantitative", "scale": {"domain": [1500, 5500], "nice": false, "zero": false}, "axis": null},
    "y": {"field": "m", "type": "quantitative", "scale": {"domain": [8.7, 10.18], "reverse": true, "nice": false, "zero": false}, "axis": null},
    "yError": {"field": "e"}
   }
  },
  {
   "data": {"name": "ts"},
   "mark": {"type": "circle", "size": 14, "color": "#0000ff", "opacity": 1},
   "encoding": {
    "x": {"field": "t", "type": "quantitative", "scale": {"domain": [1500, 5500], "nice": false, "zero": false},
      "axis": {"orient": "bottom", "title": "HJD-2450000.", "values": [1500,1600,1700,1800,1900,2000,2100,2200,2300,2400,2500,2600,2700,2800,2900,3000,3100,3200,3300,3400,3500,3600,3700,3800,3900,4000,4100,4200,4300,4400,4500,4600,4700,4800,4900,5000,5100,5200,5300,5400,5500], "format": "d",
        "labelExpr": "datum.value % 1000 === 0 ? datum.label : ''",
        "tickSize": {"condition": {"test": "datum.value % 1000 === 0", "value": -6}, "value": -3},
        "labelPadding": 29.5, "titlePadding": 7}},
    "y": {"field": "m", "type": "quantitative", "scale": {"domain": [8.7, 10.18], "reverse": true, "nice": false, "zero": false},
      "axis": {"orient": "left", "title": "ASAS3 V mag", "values": [8.75,8.8,8.85,8.9,8.95,9.0,9.05,9.1,9.15,9.2,9.25,9.3,9.35,9.4,9.45,9.5,9.55,9.6,9.65,9.7,9.75,9.8,9.85,9.9,9.95,10.0,10.05,10.1,10.15], "format": ".1f",
        "labelExpr": "abs(datum.value*5 - round(datum.value*5)) < 0.001 ? datum.label : ''",
        "tickSize": {"condition": {"test": "abs(datum.value*5 - round(datum.value*5)) < 0.001", "value": -10}, "value": -5},
        "labelPadding": 17, "titlePadding": 20}}
   }
  },
  {
   "data": {"values": [{"t": 1696, "m": 9.94, "label": "CPD -27 1791"}]},
   "mark": {"type": "text", "align": "left", "baseline": "middle", "font": "Liberation Sans", "fontSize": 24, "color": "#222"},
   "encoding": {
    "x": {"field": "t", "type": "quantitative", "scale": {"domain": [1500, 5500], "nice": false, "zero": false}, "axis": null},
    "y": {"field": "m", "type": "quantitative", "scale": {"domain": [8.7, 10.18], "reverse": true, "nice": false, "zero": false}, "axis": null},
    "text": {"field": "label"}
   }
  },
  {
   "data": {"values": [{"t": 1500, "m": 8.7}]},
   "mark": {"type": "point", "opacity": 0},
   "encoding": {
    "x": {"field": "t", "type": "quantitative", "scale": {"domain": [1500, 5500], "nice": false, "zero": false}, "axis": null},
    "y": {"field": "m", "type": "quantitative", "scale": {"domain": [8.7, 10.18], "reverse": true, "nice": false, "zero": false},
      "axis": {"orient": "right", "title": null, "labels": false, "values": [8.75,8.8,8.85,8.9,8.95,9.0,9.05,9.1,9.15,9.2,9.25,9.3,9.35,9.4,9.45,9.5,9.55,9.6,9.65,9.7,9.75,9.8,9.85,9.9,9.95,10.0,10.05,10.1,10.15],
        "tickSize": {"condition": {"test": "abs(datum.value*5 - round(datum.value*5)) < 0.001", "value": -10}, "value": -5}}}
   }
  },
  {
   "data": {"values": [{"yr": 2000}, {"yr": 2010}]},
   "mark": {"type": "point", "opacity": 0},
   "encoding": {
    "x": {"field": "yr", "type": "quantitative", "scale": {"domain": [1999.878, 2010.829], "nice": false, "zero": false},
      "axis": {"orient": "top", "title": "Year", "values": [2000,2000.5,2001,2001.5,2002,2002.5,2003,2003.5,2004,2004.5,2005,2005.5,2006,2006.5,2007,2007.5,2008,2008.5,2009,2009.5,2010,2010.5], "format": "d",
        "labelExpr": "datum.value % 2 === 0 ? datum.label : ''",
        "tickSize": {"condition": {"test": "datum.value % 2 === 0", "value": -5}, "value": -2.5},
        "labelPadding": 17.5, "titlePadding": 14}}
   }
  }
 ]
},
{
 "width": 551, "height": 269,
 "resolve": {"axis": {"x": "independent", "y": "independent"}},
 "layer": [
  {
   "data": {"name": "ph"},
   "mark": {"type": "circle", "size": 33, "color": "#0000ff", "opacity": 1},
   "encoding": {
    "x": {"field": "p", "type": "quantitative", "scale": {"domain": [-0.2, 1.2], "nice": false, "zero": false},
      "axis": {"orient": "bottom", "title": "Phase", "values": [-0.2,-0.15,-0.1,-0.05,0,0.05,0.1,0.15,0.2,0.25,0.3,0.35,0.4,0.45,0.5,0.55,0.6,0.65,0.7,0.75,0.8,0.85,0.9,0.95,1.0,1.05,1.1,1.15,1.2], "format": ".1f",
        "labelExpr": "abs(datum.value*5 - round(datum.value*5)) < 0.001 ? datum.label : ''",
        "tickSize": {"condition": {"test": "abs(datum.value*5 - round(datum.value*5)) < 0.001", "value": -7}, "value": -3.5},
        "labelPadding": 31.5, "titlePadding": 3}},
    "y": {"field": "m", "type": "quantitative", "scale": {"domain": [9.18, 9.34], "reverse": true, "nice": false, "zero": false},
      "axis": {"orient": "left", "title": "ASAS3 V mag", "values": [9.19,9.2,9.21,9.22,9.23,9.24,9.25,9.26,9.27,9.28,9.29,9.3,9.31,9.32,9.33], "format": ".2f",
        "labelExpr": "abs(datum.value*20 - round(datum.value*20)) < 0.001 ? datum.label : ''",
        "tickSize": {"condition": {"test": "abs(datum.value*20 - round(datum.value*20)) < 0.001", "value": -10}, "value": -5},
        "labelPadding": 20, "titlePadding": 20}}
   }
  },
  {
   "data": {"name": "fit"},
   "mark": {"type": "line", "color": "#ff0000", "strokeWidth": 4, "interpolate": "natural"},
   "encoding": {
    "x": {"field": "p", "type": "quantitative", "scale": {"domain": [-0.2, 1.2], "nice": false, "zero": false}, "axis": null},
    "y": {"field": "m", "type": "quantitative", "scale": {"domain": [9.18, 9.34], "reverse": true, "nice": false, "zero": false}, "axis": null}
   }
  },
  {
   "data": {"values": [{"p": 0.5, "m": 9.25}]},
   "mark": {"type": "point", "opacity": 0},
   "encoding": {
    "x": {"field": "p", "type": "quantitative", "scale": {"domain": [-0.2, 1.2], "nice": false, "zero": false},
      "axis": {"orient": "top", "title": null, "labels": false, "values": [-0.15,-0.1,-0.05,0,0.05,0.1,0.15,0.2,0.25,0.3,0.35,0.4,0.45,0.5,0.55,0.6,0.65,0.7,0.75,0.8,0.85,0.9,0.95,1.0,1.05,1.1,1.15],
        "tickSize": {"condition": {"test": "abs(datum.value*5 - round(datum.value*5)) < 0.001", "value": -7}, "value": -3.5}}},
    "y": {"field": "m", "type": "quantitative", "scale": {"domain": [9.18, 9.34], "reverse": true, "nice": false, "zero": false},
      "axis": {"orient": "right", "title": null, "labels": false, "values": [9.19,9.2,9.21,9.22,9.23,9.24,9.25,9.26,9.27,9.28,9.29,9.3,9.31,9.32,9.33],
        "tickSize": {"condition": {"test": "abs(datum.value*20 - round(datum.value*20)) < 0.001", "value": -10}, "value": -5}}}
   }
  }
 ]
}
]
}
